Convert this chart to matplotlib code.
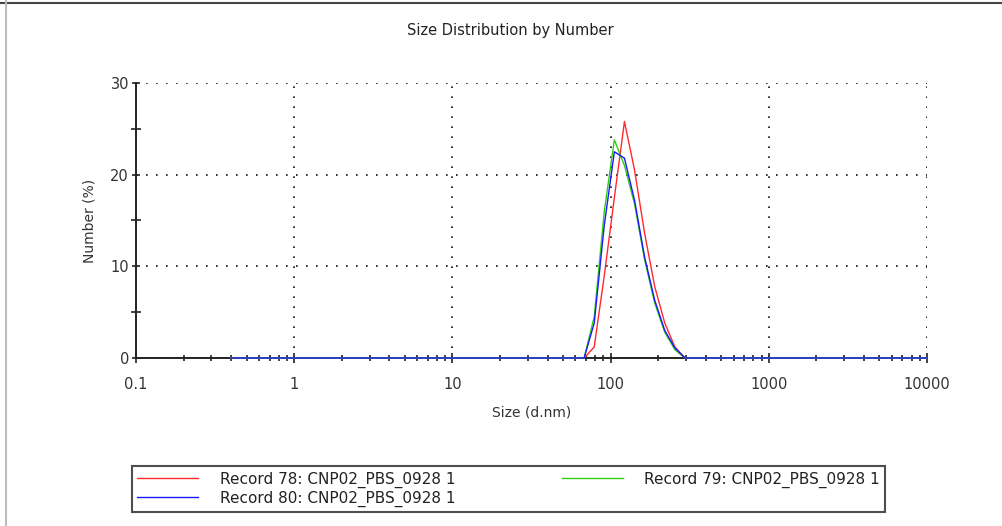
import matplotlib
matplotlib.use("Agg")
import matplotlib.pyplot as plt
from matplotlib.lines import Line2D
from matplotlib.ticker import LogLocator, FixedLocator, NullFormatter

plt.rcParams['font.family'] = ['DejaVu Sans']

# Size bins (d.nm)
sizes = [0.4, 0.4632, 0.5365, 0.6213, 0.7195, 0.8332, 0.9649, 1.117, 1.294, 1.499,
         1.736, 2.010, 2.328, 2.696, 3.122, 3.615, 4.187, 4.849, 5.615, 6.503,
         7.531, 8.721, 10.10, 11.70, 13.54, 15.69, 18.17, 21.04, 24.36, 28.21,
         32.67, 37.84, 43.82, 50.75, 58.77, 68.06, 78.82, 91.28, 105.7, 122.4,
         141.8, 164.2, 190.1, 220.2, 255.0, 295.3, 342.0, 396.1, 458.7, 531.2,
         615.1, 712.4, 825.0, 955.4, 1106, 1281, 1484, 1718, 1990, 2305,
         2669, 3091, 3580, 4145, 4801, 5560, 6439, 7456, 8635, 10000]

# non-zero part of each record, starting at 68.06 nm
n_lead = 35
rec78_peak = [0.0, 1.2, 9.0, 17.5, 25.8, 20.5, 13.6, 7.8, 3.8, 1.2, 0.0]
rec79_peak = [0.0, 4.5, 16.0, 23.8, 21.0, 16.8, 10.7, 6.0, 2.8, 0.9, 0.0]
rec80_peak = [0.0, 3.8, 14.5, 22.5, 21.8, 17.2, 11.0, 6.3, 3.0, 1.1, 0.0]


def full(peak):
    return [0.0] * n_lead + peak + [0.0] * (len(sizes) - n_lead - len(peak))


rec78 = full(rec78_peak)
rec79 = full(rec79_peak)
rec80 = full(rec80_peak)

labels = ['Record 78: CNP02_PBS_0928 1',
          'Record 79: CNP02_PBS_0928 1',
          'Record 80: CNP02_PBS_0928 1']
colors = ['#ff2a2a', '#33cc11', '#1a1aff']

fig = plt.figure(figsize=(10.02, 5.26), dpi=100)
ax = fig.add_axes([0.1357, 0.3194, 0.7894, 0.5228])

h78, = ax.plot(sizes, rec78, color=colors[0], lw=1.0, zorder=3, clip_on=False, label=labels[0])
h79, = ax.plot(sizes, rec79, color=colors[1], lw=1.0, zorder=3, clip_on=False, label=labels[1])
h80, = ax.plot(sizes, rec80, color=colors[2], lw=1.0, zorder=3, clip_on=False, label=labels[2])

ax.set_xscale('log')
ax.set_xlim(0.1, 10000)
ax.set_ylim(0, 30)
ax.set_xticks([0.1, 1, 10, 100, 1000, 10000])
ax.set_xticklabels(['0.1', '1', '10', '100', '1000', '10000'])
ax.xaxis.set_minor_locator(LogLocator(base=10, subs=range(2, 10), numticks=20))
ax.xaxis.set_minor_formatter(NullFormatter())
ax.set_yticks([0, 10, 20, 30])
ax.yaxis.set_minor_locator(FixedLocator([5, 15, 25]))

for s in ['top', 'right']:
    ax.spines[s].set_visible(False)
for s in ['left', 'bottom']:
    ax.spines[s].set_linewidth(1.4)
    ax.spines[s].set_color('#222222')

ax.tick_params(which='both', direction='inout', width=1.2, color='#222222',
               labelsize=10.5, labelcolor='#333333')
ax.tick_params(axis='x', which='major', length=7, pad=10)
ax.tick_params(axis='x', which='minor', length=5)
ax.tick_params(axis='y', which='major', length=6, pad=2)
ax.tick_params(axis='y', which='minor', length=7)

ax.grid(True, which='major', color='#111111', linestyle=(0, (1, 5)), linewidth=1.2)

fig.text(0.509, 1 - 31 / 526, 'Size Distribution by Number', fontsize=10.5,
         color='#222222', ha='center', va='center')
ax.set_xlabel('Size (d.nm)', fontsize=10, color='#333333', labelpad=10)
ax.set_ylabel('Number (%)', fontsize=10, color='#333333', labelpad=10)

leg = fig.legend([h78, h80, h79], [labels[0], labels[2], labels[1]], ncol=2,
                 loc='upper left', mode='expand',
                 bbox_to_anchor=(132 / 1002, 1 - 513 / 526, 753 / 1002, 47 / 526),
                 fontsize=11, frameon=True, fancybox=False, edgecolor='#222222',
                 handlelength=4.0, handletextpad=1.4, columnspacing=3,
                 borderpad=0.35, labelspacing=0.2, borderaxespad=0)
leg.get_frame().set_linewidth(1.5)
for t in leg.get_texts():
    t.set_color('#222222')

# page border lines
fig.add_artist(Line2D([0, 1], [1 - 2.5 / 526] * 2, color='#444444', lw=1.5))
fig.add_artist(Line2D([6 / 1002] * 2, [0, 1], color='#bbbbbb', lw=1.5))

fig.savefig('out.png', dpi=100)
